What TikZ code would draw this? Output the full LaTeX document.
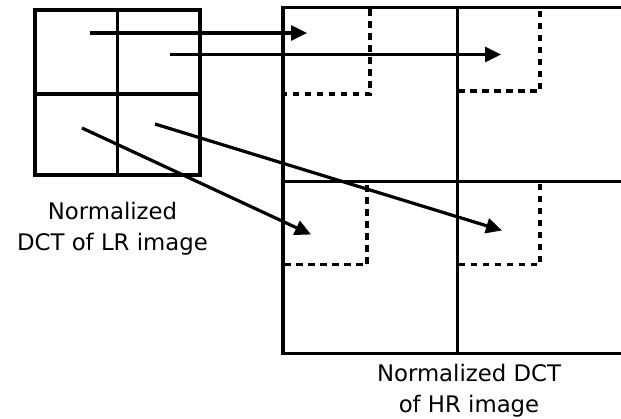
\documentclass[tikz,border=0pt]{standalone}
\usepackage{fontspec}
\setmainfont{DejaVu Sans}
\usetikzlibrary{arrows.meta}
\begin{document}
\begin{tikzpicture}[x=1pt,y=-1pt,
  grid/.style={line width=3.4pt},
  sub/.style={line width=3.4pt,dash pattern=on 6.5pt off 5.5pt},
  map/.style={line width=3.2pt,-{Triangle[length=16pt,width=15pt]}},
  caption/.style={align=center,inner sep=0pt,anchor=north,
    font=\fontsize{22.8}{31}\selectfont}]
\useasboundingbox (0,0) rectangle (621,418);
\clip (0,0) rectangle (621,418);

% dashed sub-blocks inside the high-resolution grid
\draw[sub] (283,7.5) rectangle (370,94);
\draw[sub] (457.5,7.5) rectangle (540,91);
\draw[sub] (283,181.5) rectangle (367,264.5);
\draw[sub] (457.5,181.5) rectangle (540,264.5);

% low-resolution coefficient grid (2x2)
\draw[grid] (35,10) rectangle (200,175);
\draw[grid] (117.5,10) -- (117.5,175);
\draw[grid] (35,94) -- (200,94);

% high-resolution coefficient grid (continues past the right edge)
\draw[grid] (283,7.5) rectangle (631,353.5);
\draw[grid] (457.5,7.5) -- (457.5,353.5);
\draw[grid] (283,181.5) -- (631,181.5);

% mapping arrows: start points in the LR cells, tips in the HR sub-blocks
\coordinate (s1) at (90,33);
\coordinate (s2) at (170,54.5);
\coordinate (s3) at (82,128);
\coordinate (s4) at (155,124);
\coordinate (t1) at (307,33);
\coordinate (t2) at (501,54.5);
\coordinate (t3) at (311,234.5);
\coordinate (t4) at (502,230.5);
\draw[map] (s1) -- (t1);
\draw[map] (s2) -- (t2);
\draw[map] (s3) -- (t3);
\draw[map] (s4) -- (t4);

% captions
\node[caption] (lrlabel) at (112.5,201.7) {Normalized\\DCT of LR image};
\node[caption] (hrlabel) at (469,364.4) {Normalized DCT\\of HR image};
\end{tikzpicture}
\end{document}
